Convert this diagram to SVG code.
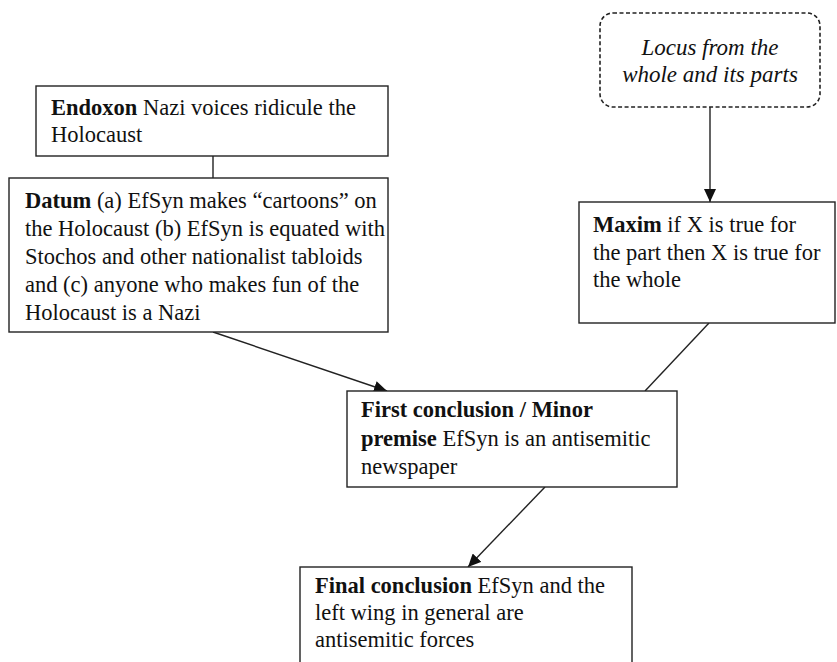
<svg xmlns="http://www.w3.org/2000/svg" width="837" height="662" viewBox="0 0 837 662">
<style>
.box{fill:#fff;stroke:#222;stroke-width:1.4}
.dash{fill:#fff;stroke:#222;stroke-width:1.6;stroke-dasharray:4 2.5}
.t{font-family:'Liberation Serif',serif;font-size:22.5px;fill:#111}
.it{font-family:'Liberation Serif',serif;font-size:23px;font-style:italic;fill:#111;text-anchor:middle}
.b{font-weight:bold}
.c{fill:none;stroke:#222;stroke-width:1.4}
</style>
<defs>
<marker id="ah" markerUnits="userSpaceOnUse" markerWidth="14" markerHeight="12" refX="13" refY="6" orient="auto">
<path d="M0,0 L13,6 L0,12 Z" fill="#111"/>
</marker>
</defs>
<g id="connectors">
<line class="c" x1="710" y1="107" x2="710" y2="202" marker-end="url(#ah)"/>
<line class="c" x1="213" y1="156" x2="213" y2="178"/>
<line class="c" x1="213" y1="332" x2="387" y2="391" marker-end="url(#ah)"/>
<line class="c" x1="709" y1="323" x2="645" y2="391"/>
<line class="c" x1="545" y1="487" x2="468" y2="567" marker-end="url(#ah)"/>
</g>
<g id="locus">
<rect class="dash" x="600" y="13" width="220" height="94" rx="13" ry="13"/>
<text class="it" x="710" y="55">Locus from the</text>
<text class="it" x="710" y="82">whole and its parts</text>
</g>
<g id="endoxon">
<rect class="box" x="36" y="86" width="352" height="70"/>
<text class="t" x="51" y="115"><tspan class="b">Endoxon</tspan> Nazi voices ridicule the</text>
<text class="t" x="51" y="142">Holocaust</text>
</g>
<g id="datum">
<rect class="box" x="9" y="178" width="379" height="154"/>
<text class="t" x="25" y="208"><tspan class="b">Datum</tspan> (a) EfSyn makes “cartoons” on</text>
<text class="t" x="25" y="236">the Holocaust (b) EfSyn is equated with</text>
<text class="t" x="25" y="264">Stochos and other nationalist tabloids</text>
<text class="t" x="25" y="292">and (c) anyone who makes fun of the</text>
<text class="t" x="25" y="320">Holocaust is a Nazi</text>
</g>
<g id="maxim">
<rect class="box" x="579" y="202" width="256" height="121"/>
<text class="t" x="593" y="232"><tspan class="b">Maxim</tspan> if X is true for</text>
<text class="t" x="593" y="260">the part then X is true for</text>
<text class="t" x="593" y="287">the whole</text>
</g>
<g id="first-conclusion">
<rect class="box" x="347" y="391" width="330" height="96"/>
<text class="t" x="361" y="417"><tspan class="b">First conclusion / Minor</tspan></text>
<text class="t" x="361" y="446"><tspan class="b">premise</tspan> EfSyn is an antisemitic</text>
<text class="t" x="361" y="474">newspaper</text>
</g>
<g id="final-conclusion">
<rect class="box" x="300" y="567" width="332" height="120"/>
<text class="t" x="315" y="593"><tspan class="b">Final conclusion</tspan> EfSyn and the</text>
<text class="t" x="315" y="620">left wing in general are</text>
<text class="t" x="315" y="647">antisemitic forces</text>
</g>
</svg>
